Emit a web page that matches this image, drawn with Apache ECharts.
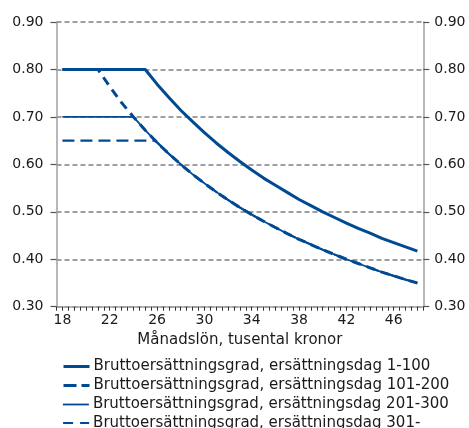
<!DOCTYPE html>
<html>
<head>
<meta charset="utf-8">
<script src="https://cdn.jsdelivr.net/npm/echarts@6/dist/echarts.min.js"></script>
<style>
html,body{margin:0;padding:0;background:#fff;}
#chart{width:469px;height:428px;}
</style>
</head>
<body>
<div id="chart"></div>
<script>
// Monthly salary (thousand SEK) and gross replacement rates
const seriesNames = [
  'Bruttoersättningsgrad, ersättningsdag 1-100',
  'Bruttoersättningsgrad, ersättningsdag 101-200',
  'Bruttoersättningsgrad, ersättningsdag 201-300',
  'Bruttoersättningsgrad, ersättningsdag 301-'
];
const xDay1 = [18, 25, 26, 27, 28, 29, 30, 31, 32, 33, 34, 35, 36, 37, 38, 39, 40, 41, 42, 43, 44, 45, 46, 47, 48];
const yDay1 = [0.80, 0.80, 0.769, 0.741, 0.714, 0.690, 0.667, 0.645, 0.625, 0.606, 0.588, 0.571, 0.556, 0.541, 0.526, 0.513, 0.500, 0.488, 0.476, 0.465, 0.455, 0.444, 0.435, 0.426, 0.417];

const xDay101 = [18, 21, 22, 23, 24, 25, 26, 27, 28, 29, 30, 31, 32, 33, 34, 35, 36, 37, 38, 39, 40, 41, 42, 43, 44, 45, 46, 47, 48];
const yDay101 = [0.80, 0.80, 0.764, 0.730, 0.700, 0.672, 0.646, 0.622, 0.600, 0.579, 0.560, 0.542, 0.525, 0.509, 0.494, 0.480, 0.467, 0.454, 0.442, 0.431, 0.420, 0.410, 0.400, 0.391, 0.382, 0.373, 0.365, 0.357, 0.350];

const xDay201 = [18, 24, 25, 26, 27, 28, 29, 30, 31, 32, 33, 34, 35, 36, 37, 38, 39, 40, 41, 42, 43, 44, 45, 46, 47, 48];
const yDay201 = [0.70, 0.70, 0.672, 0.646, 0.622, 0.600, 0.579, 0.560, 0.542, 0.525, 0.509, 0.494, 0.480, 0.467, 0.454, 0.442, 0.431, 0.420, 0.410, 0.400, 0.391, 0.382, 0.373, 0.365, 0.357, 0.350];

const xDay301 = [18, 25.85, 26, 27, 28, 29, 30, 31, 32, 33, 34, 35, 36, 37, 38, 39, 40, 41, 42, 43, 44, 45, 46, 47, 48];
const yDay301 = [0.65, 0.65, 0.646, 0.622, 0.600, 0.579, 0.560, 0.542, 0.525, 0.509, 0.494, 0.480, 0.467, 0.454, 0.442, 0.431, 0.420, 0.410, 0.400, 0.391, 0.382, 0.373, 0.365, 0.357, 0.350];

const xTickLabels = [18, 22, 26, 30, 34, 38, 42, 46];
const xMinorTicks = [17.5,18,18.5,19,19.5,20,20.5,21,21.5,22,22.5,23,23.5,24,24.5,25,25.5,26,26.5,27,27.5,28,28.5,29,29.5,30,30.5,31,31.5,32,32.5,33,33.5,34,34.5,35,35.5,36,36.5,37,37.5,38,38.5,39,39.5,40,40.5,41,41.5,42,42.5,43,43.5,44,44.5,45,45.5,46,46.5,47,47.5,48,48.5];
const xAxisName = 'Månadslön, tusental kronor';

const pair = (xs, ys) => xs.map((x, i) => [x, ys[i]]);
const blue = '#004a93';
const font = 'DejaVu Sans';
const axisGray = '#a0a0a0';
const textColor = '#1a1a1a';

const legendTops = [359, 378, 397, 415.5];
const legendDash = ['inherit', [13, 5], 'inherit', [10, 7]];
const legends = seriesNames.map((n, i) => ({
  orient: 'vertical',
  left: 62,
  top: legendTops[i],
  padding: 0,
  itemWidth: 26,
  itemHeight: 12,
  itemGap: 0,
  itemStyle: { opacity: 0 },
  lineStyle: { width: 'inherit', type: legendDash[i] },
  textStyle: { fontFamily: font, fontSize: 15, color: textColor, padding: [0, 0, 0, -1] },
  data: [n]
}));

const chart = echarts.init(document.getElementById('chart'));
chart.setOption({
  animation: false,
  textStyle: { fontFamily: font },
  grid: { left: 56.5, right: 45.7, top: 22, bottom: 121.3 },
  legend: legends,
  xAxis: {
    type: 'value',
    min: 17.5,
    max: 48.5,
    name: xAxisName,
    nameLocation: 'middle',
    nameGap: 26,
    nameTextStyle: { fontFamily: font, fontSize: 15, color: textColor },
    axisLine: { show: true, lineStyle: { color: axisGray, width: 1.5 } },
    axisTick: { show: true, length: 4, customValues: xMinorTicks, lineStyle: { color: '#333', width: 1 } },
    axisLabel: { customValues: xTickLabels, margin: 7, fontSize: 14, color: textColor, fontFamily: font },
    splitLine: { show: false }
  },
  yAxis: [
    {
      type: 'value',
      min: 0.3, max: 0.9, interval: 0.1,
      position: 'left',
      axisLine: { show: true, lineStyle: { color: axisGray, width: 1.5 } },
      axisTick: { show: true, length: 6, lineStyle: { color: '#555', width: 1.2 } },
      axisLabel: { formatter: v => v.toFixed(2), margin: 13, fontSize: 14, color: textColor, fontFamily: font },
      splitLine: { show: true, lineStyle: { color: '#808080', width: 1.6, type: [5, 3] } }
    },
    {
      type: 'value',
      min: 0.3, max: 0.9, interval: 0.1,
      position: 'right',
      axisLine: { show: true, lineStyle: { color: axisGray, width: 1.5 } },
      axisTick: { show: true, length: 6, lineStyle: { color: '#555', width: 1.2 } },
      axisLabel: { formatter: v => v.toFixed(2), margin: 11, fontSize: 14, color: textColor, fontFamily: font },
      splitLine: { show: false }
    }
  ],
  series: [
    { name: seriesNames[0], type: 'line', data: pair(xDay1, yDay1), showSymbol: false, symbol: 'none',
      lineStyle: { color: blue, width: 3 }, itemStyle: { color: blue }, z: 5 },
    { name: seriesNames[1], type: 'line', data: pair(xDay101, yDay101), showSymbol: false, symbol: 'none',
      lineStyle: { color: blue, width: 3, type: [9, 6] }, itemStyle: { color: blue }, z: 3 },
    { name: seriesNames[2], type: 'line', data: pair(xDay201, yDay201), showSymbol: false, symbol: 'none',
      lineStyle: { color: blue, width: 1.8 }, itemStyle: { color: blue }, z: 4 },
    { name: seriesNames[3], type: 'line', data: pair(xDay301, yDay301), showSymbol: false, symbol: 'none',
      lineStyle: { color: blue, width: 2.2, type: [12, 6] }, itemStyle: { color: blue }, z: 3 }
  ]
});
</script>
</body>
</html>
